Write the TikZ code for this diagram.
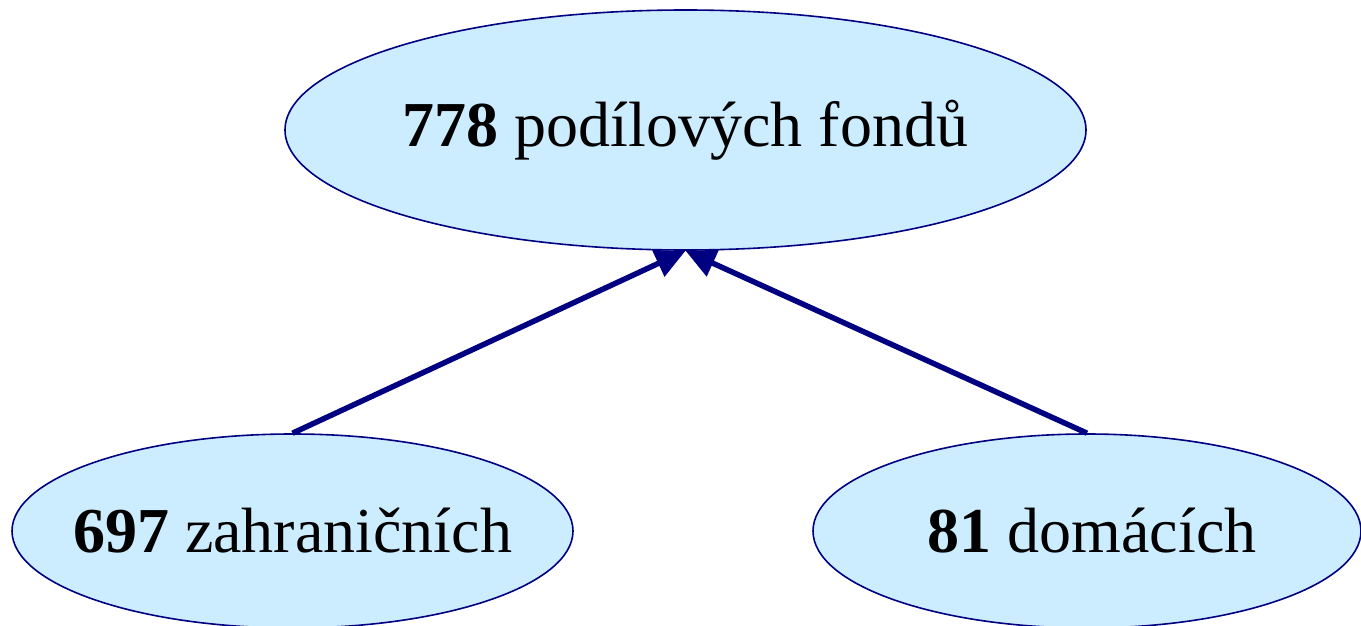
\documentclass[tikz,border=0pt]{standalone}
\usepackage{fontspec}
\setmainfont{Liberation Serif}
\usetikzlibrary{arrows.meta, shapes.geometric}

\definecolor{fundline}{RGB}{0,0,128}
\definecolor{fundfill}{RGB}{204,236,255}

\tikzset{
  fund/.style={ellipse, draw=fundline, fill=fundfill, line width=1.6pt, inner sep=0pt},
  fundtext/.style={font=\fontsize{64}{72}\selectfont, inner sep=0pt},
  feed/.style={draw=fundline, line width=5.5pt, -{Triangle[length=30pt, width=28pt]}}
}

\begin{document}
\begin{tikzpicture}[x=1pt, y=-1pt]
\clip (0,0) rectangle (1361,626);
\node[fund, minimum width=801pt, minimum height=240pt] (T) at (685.5,130) {};
\node[fund, minimum width=561pt, minimum height=194pt] (Z) at (292.5,531) {};
\node[fund, minimum width=548pt, minimum height=194pt] (D) at (1087,531) {};

\node[fundtext] (Tt) at (T) {\textbf{778} podílových fondů};
\node[fundtext] (Zt) at (Z) {\textbf{697} zahraničních};
\node[fundtext, xshift=5pt] (Dt) at (D) {\textbf{81} domácích};

\draw[feed] (Z.north) -- (T.south);
\draw[feed] (D.north) -- (T.south);
\end{tikzpicture}
\end{document}
